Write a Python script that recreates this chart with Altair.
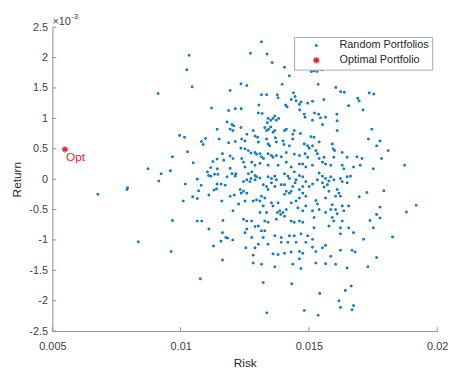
import altair as alt
import pandas as pd

# ---------------- data ----------------
risk_a = [0.00677,0.00793,0.00791,0.00835,0.00873,0.00912,0.00915,0.00924,0.0096,0.00963,
          0.00968,0.00968,0.00996,0.01015,0.0101,0.01018,0.01027,0.01024,0.01033,0.01045,
          0.01047,0.01049,0.01065,0.0107,0.0108,0.01065,0.01082,0.01077,0.01065,0.01081,
          0.01088,0.01097,0.01104,0.01109,0.01118,0.0111,0.0111,0.0112,0.01126,0.01128,
          0.0113,0.0114,0.01142,0.01143,0.01145,0.0115,0.01142,0.01157,0.01163,0.01163,
          0.01165,0.0116,0.01163,0.01176,0.01117,0.01132,0.01193,0.012,0.01215,0.01213,
          0.01181,0.01193,0.01235,0.01187,0.01213,0.01236,0.01181,0.012,0.01207,0.01193,
          0.01204,0.01235,0.01187,0.01213,0.01235,0.01193,0.01204,0.01168,0.01142,0.01158,
          0.01174,0.01193,0.01209,0.01232,0.01236,0.01226,0.01204,0.01183,0.01203]
ret_a = [-0.25,-0.14,-0.17,-1.03,0.17,1.41,-0.03,0.09,0.14,-1.19,
         -0.68,0.37,0.72,0.69,-0.36,-0.08,0.45,1.80,2.04,1.52,
         -0.29,0.27,-0.32,-0.19,-0.10,-0.69,-0.69,-1.64,0.0,0.62,
         0.57,0.67,0.12,0.06,0.05,-0.26,-0.82,1.17,0.29,-1.10,
         -0.18,-0.16,0.33,0.17,0.08,0.66,0.82,-1.02,-1.33,-0.88,
         -0.68,-0.36,0.42,-0.96,0.19,0.08,0.18,0.09,0.09,0.05,
         0.04,1.46,1.57,1.13,1.16,1.16,0.94,0.90,0.88,0.82,
         0.80,0.85,0.60,0.62,0.51,0.38,0.34,0.31,-0.08,-0.08,
         -0.10,-0.28,-0.26,-0.17,-0.23,-0.41,-0.52,-0.97,-1.00]

risk_b = [0.01315,0.01272,0.01337,0.01357,0.01405,0.01424,0.01396,0.01258,0.01315,0.01335,
          0.01377,0.0138,0.0144,0.01446,0.01431,0.0145,0.01469,0.01463,0.01409,0.01415,
          0.01495,0.01305,0.01464,0.01303,0.01318,0.01367,0.0136,0.01373,0.01382,0.01351,
          0.01341,0.01338,0.01482,0.01485,0.01328,0.01335,0.01343,0.01351,0.0136,0.01367,
          0.01405,0.01412,0.01443,0.01437,0.01467,0.01283,0.0129,0.01258,0.01238,0.01251,
          0.013,0.01303,0.01335,0.01341,0.01347,0.01369,0.01373,0.01399,0.01403,0.01437,
          0.01424,0.01482,0.01495,0.01501,0.01251,0.01264,0.01274,0.0129,0.01296,0.01309,
          0.01315,0.01323,0.01341,0.01354,0.0136,0.01373,0.01392,0.01412,0.01443,0.01463,
          0.01485,0.01495,0.01238,0.01245,0.01251,0.01277,0.0129,0.01309,0.01341,0.0138,
          0.01412,0.01431,0.01463,0.01476,0.01488,0.01264,0.01277,0.0129,0.01296,0.01274,
          0.01341,0.01354,0.01367,0.01405,0.01418,0.01424,0.01443,0.01463,0.01476]
ret_b = [2.26,2.07,2.06,1.92,1.84,1.70,1.56,1.54,1.39,1.39,
         1.39,1.34,1.42,1.36,1.31,1.29,1.27,1.23,1.22,1.19,
         1.25,1.22,1.14,1.09,1.08,1.04,1.00,0.97,1.00,0.97,
         1.00,0.93,1.07,1.02,0.85,0.80,0.82,0.86,0.77,0.80,
         0.80,0.82,0.80,0.74,0.75,0.80,0.71,0.74,0.66,0.63,
         0.69,0.61,0.66,0.58,0.55,0.68,0.61,0.63,0.57,0.66,
         0.55,0.58,0.55,0.51,0.50,0.47,0.43,0.44,0.41,0.42,
         0.37,0.34,0.42,0.39,0.36,0.39,0.37,0.44,0.41,0.39,
         0.42,0.36,0.34,0.28,0.20,0.28,0.23,0.26,0.23,0.23,
         0.28,0.20,0.25,0.25,0.20,0.09,0.12,0.06,0.04,0.01,
         0.04,0.01,0.05,0.09,0.05,0.01,0.12,0.06,0.04]

risk_c = [0.01509,0.01519,0.01532,0.01545,0.01553,0.01536,0.01605,0.01624,0.01638,0.01735,
          0.01753,0.01514,0.01558,0.0169,0.01696,0.01655,0.01711,0.01522,0.01538,0.01545,
          0.01565,0.01609,0.0161,0.01514,0.01553,0.01745,0.0161,0.01508,0.0152,0.0154,
          0.01591,0.01595,0.016,0.01732,0.01764,0.01514,0.01527,0.01533,0.01559,0.0154,
          0.01553,0.01597,0.0163,0.01649,0.01687,0.01707,0.01514,0.01565,0.01585,0.0163,
          0.01636,0.01674,0.017,0.01751,0.0154,0.01553,0.01565,0.01585,0.01623,0.01649,
          0.01662,0.01777,0.01809,0.01783,0.01873]
ret_c = [1.77,1.78,1.77,1.81,1.80,1.56,1.51,1.44,1.43,1.42,
         1.40,1.28,1.31,1.33,1.29,1.21,1.14,1.09,1.07,1.01,
         1.02,1.07,0.96,0.97,0.90,0.82,0.80,0.70,0.69,0.61,
         0.58,0.50,0.47,0.66,0.55,0.55,0.47,0.42,0.36,0.34,
         0.28,0.36,0.44,0.36,0.37,0.34,0.23,0.25,0.23,0.23,
         0.17,0.20,0.23,0.17,0.10,0.05,0.01,0.04,0.01,0.04,
         0.05,0.63,0.47,0.34,0.23]

risk_d = [0.01245,0.01258,0.0127,0.0129,0.01309,0.01322,0.01335,0.01341,0.01354,0.01367,
          0.01373,0.01392,0.01405,0.01412,0.01431,0.01437,0.01446,0.0145,0.01463,0.01476,
          0.01488,0.01501,0.01245,0.01258,0.01251,0.01283,0.01296,0.01309,0.01315,0.01328,
          0.01322,0.01309,0.01354,0.0136,0.0138,0.01386,0.01377,0.0139,0.01399,0.01405,
          0.01412,0.01405,0.01424,0.01431,0.0145,0.01463,0.01476,0.01488,0.01457,0.01476,
          0.01488,0.01335,0.01341,0.01328,0.01245,0.01258,0.01277,0.0129,0.01303,0.01373,
          0.01431,0.01443,0.01463,0.01476,0.01258,0.01251,0.01315,0.01328,0.01277,0.01322,
          0.01367,0.01392,0.01424,0.01443,0.01469,0.01495,0.01303,0.01341,0.01392,0.01418,
          0.0145,0.01488,0.01254,0.0129,0.0136,0.0138,0.01405,0.01431,0.01463,0.01476,
          0.01283,0.01283,0.01315,0.01367,0.01437,0.01463,0.01469,0.01322,0.01433,0.01336,0.01482]
ret_d = [-0.04,-0.01,-0.04,-0.01,0.02,-0.09,-0.12,-0.17,-0.06,-0.12,
         -0.01,-0.09,-0.09,-0.20,-0.20,-0.12,-0.06,-0.01,-0.17,-0.12,
         -0.04,-0.12,-0.20,-0.23,-0.36,-0.36,-0.34,-0.36,-0.28,-0.31,
         -0.44,-0.55,-0.39,-0.44,-0.39,-0.52,-0.55,-0.58,-0.55,-0.61,
         -0.50,-0.25,-0.23,-0.39,-0.36,-0.31,-0.23,-0.28,-0.47,-0.52,
         -0.44,-0.55,-0.71,-0.69,-0.66,-0.69,-0.69,-0.78,-0.77,-0.66,
         -0.69,-0.71,-0.69,-0.71,-0.82,-0.88,-0.85,-0.85,-0.96,-0.96,
         -0.93,-0.96,-0.93,-0.93,-0.90,-0.93,-1.07,-1.07,-1.04,-1.04,
         -1.04,-1.04,-1.13,-1.13,-1.23,-1.24,-1.22,-1.20,-1.19,-1.22,
         -1.25,-1.38,-1.40,-1.44,-1.40,-1.31,-1.47,-1.70,-1.72,-2.20,-2.16]

risk_e = [0.01514,0.01533,0.01553,0.01559,0.01572,0.01578,0.01597,0.0161,0.01617,0.0163,
          0.01649,0.01604,0.01623,0.01565,0.01578,0.01696,0.01726,0.01527,0.01533,0.0154,
          0.01514,0.01591,0.01585,0.01604,0.0161,0.0163,0.01636,0.01655,0.01565,0.0152,
          0.01591,0.01597,0.01578,0.0163,0.01623,0.01764,0.01738,0.01751,0.0152,0.01623,
          0.01655,0.01674,0.01713,0.01514,0.01514,0.01527,0.01553,0.01565,0.01623,0.01668,
          0.0168,0.01585,0.01527,0.01565,0.01604,0.01649,0.0173,0.01764,0.01665,0.01642,
          0.01542,0.01617,0.01623,0.01674,0.01668,0.01536,0.01792,0.01777,0.01777,0.0188,0.01918,0.01826]
ret_e = [-0.08,-0.01,-0.06,-0.13,-0.09,-0.03,-0.01,-0.17,-0.23,-0.04,
         -0.06,-0.28,-0.28,-0.31,-0.20,-0.29,-0.22,-0.35,-0.41,-0.50,
         -0.52,-0.42,-0.50,-0.50,-0.57,-0.44,-0.52,-0.44,-0.55,-0.63,
         -0.63,-0.69,-0.77,-0.69,-0.80,-0.58,-0.68,-0.80,-0.80,-0.90,
         -0.80,-0.88,-0.99,-0.99,-1.12,-1.19,-1.13,-1.09,-1.17,-1.17,
         -1.20,-1.27,-1.38,-1.39,-1.40,-1.46,-1.44,-1.29,-1.76,-1.83,
         -1.88,-2.00,-2.11,-2.08,-2.15,-2.24,-0.19,-0.46,-0.64,-0.54,-0.43,-0.95]

# return values are in units of 1e-3 (axis multiplier shown as x10^-3)
opt_risk = [0.00549]
opt_ret = [0.49]
opt_label = ["Opt"]

series_names = ["Random Portfolios", "Optimal Portfolio"]
x_ticks = [0.005, 0.01, 0.015, 0.02]
y_ticks = [-2.5, -2, -1.5, -1, -0.5, 0, 0.5, 1, 1.5, 2, 2.5]

# ---------------- build tables ----------------
risk = risk_a + risk_b + risk_c + risk_d + risk_e
ret = ret_a + ret_b + ret_c + ret_d + ret_e
n = min(len(risk), len(ret))
rand_df = pd.DataFrame({"risk": risk[:n], "ret": ret[:n], "series": series_names[0], "label": ""})
opt_df = pd.DataFrame({"risk": opt_risk, "ret": opt_ret, "series": series_names[1], "label": opt_label})
data = pd.concat([rand_df, opt_df], ignore_index=True)

W, H = 390, 308
BLUE = "#0072BD"
RED = "#E8202E"
AXC = "#8f8f8f"
TXT = "#404040"
ASTER = "M-1,0L1,0M0,-1L0,1M-0.72,-0.72L0.72,0.72M-0.72,0.72L0.72,-0.72"

xs = alt.Scale(domain=[0.005, 0.02], nice=False, zero=False)
ys = alt.Scale(domain=[-2.5, 2.5], nice=False, zero=False)

x_axis = alt.Axis(values=x_ticks, labelExpr="'' + datum.value", labelOverlap=False,
                  labelFlush=False, tickSize=0, labelPadding=10, titlePadding=6)
y_axis = alt.Axis(values=y_ticks, labelExpr="'' + datum.value", labelOverlap=False,
                  labelFlush=False, tickSize=0, labelPadding=5, titlePadding=5)

leg = alt.Legend(title=None, orient="none", legendX=245, legendY=10,
                 strokeColor="#a8a8a8", fillColor="white", padding=3,
                 symbolOffset=14, labelOffset=18, rowPadding=3,
                 labelFontSize=11, labelColor="#262626", labelFont="Liberation Sans",
                 symbolStrokeWidth=1.3)

points = alt.Chart(data).mark_point(filled=False, opacity=1, strokeWidth=1.2).encode(
    x=alt.X("risk:Q", scale=xs, title="Risk", axis=x_axis),
    y=alt.Y("ret:Q", scale=ys, title="Return", axis=y_axis),
    color=alt.Color("series:N", scale=alt.Scale(domain=series_names, range=[BLUE, RED]), legend=leg),
    shape=alt.Shape("series:N", scale=alt.Scale(domain=series_names, range=["circle", ASTER]), legend=leg),
    size=alt.Size("series:N", scale=alt.Scale(type="ordinal", domain=series_names, range=[3, 40]), legend=leg),
)

opt_text = alt.Chart(opt_df).mark_text(align="left", baseline="alphabetic", dx=1, dy=12,
                                       color=RED, fontSize=12, font="Liberation Sans").encode(
    x=alt.X("risk:Q", scale=xs, title="Risk", axis=x_axis),
    y=alt.Y("ret:Q", scale=ys, title="Return", axis=y_axis),
    text="label:N",
)

xtick = alt.Chart(pd.DataFrame({"risk": x_ticks})).mark_rule(color=AXC, strokeWidth=1).encode(
    x=alt.X("risk:Q", scale=xs, title="Risk", axis=x_axis), y=alt.value(H), y2=alt.value(H - 4))
ytick = alt.Chart(pd.DataFrame({"ret": y_ticks})).mark_rule(color=AXC, strokeWidth=1).encode(
    y=alt.Y("ret:Q", scale=ys, title="Return", axis=y_axis), x=alt.value(0), x2=alt.value(4))

mult = alt.Chart(pd.DataFrame({"t": ["\u00d710"]})).mark_text(
    align="left", baseline="alphabetic", fontSize=11, color=TXT, font="Liberation Sans").encode(
    text="t:N", x=alt.value(0), y=alt.value(-2))
expo = alt.Chart(pd.DataFrame({"t": ["-3"]})).mark_text(
    align="left", baseline="alphabetic", fontSize=8, color=TXT, font="Liberation Sans").encode(
    text="t:N", x=alt.value(19), y=alt.value(-8))

chart = alt.layer(points, xtick, ytick, opt_text, mult, expo).properties(
    width=W, height=H,
    padding={"left": 45, "top": 17, "right": 12, "bottom": 38},
    autosize=alt.AutoSizeParams(type="none"),
).configure_view(stroke=None).configure_axis(
    grid=False, domainColor=AXC, domainWidth=1, labelOverlap=False,
    labelColor=TXT, labelFont="Liberation Sans", labelFontSize=11,
    titleColor="#262626", titleFont="Liberation Sans", titleFontSize=12, titleFontWeight="normal",
)

chart.save("out.html", embed_options={"renderer": "svg", "actions": False})
